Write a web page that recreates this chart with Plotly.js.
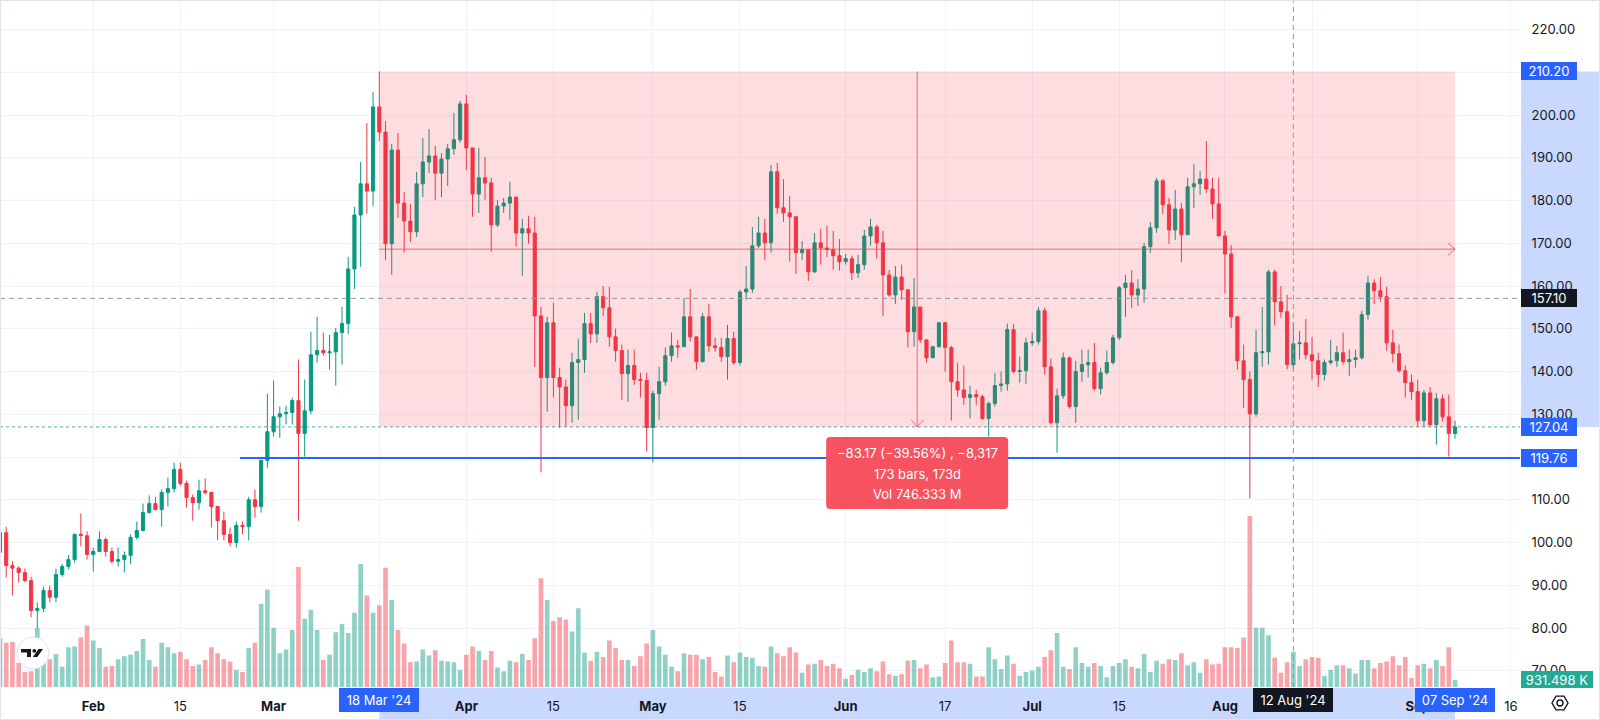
<!DOCTYPE html>
<html>
<head>
<meta charset="utf-8">
<script src="https://cdn.plot.ly/plotly-3.0.1.min.js"></script>
<style>
html,body{margin:0;padding:0;background:#fff;}
#chart{width:1600px;height:720px;}
</style>
</head>
<body>
<div id="chart"></div>
<script>
// ---------------- DATA ----------------
const firstDate = '2024-01-17';

const openP = [
 97.7,102.3,94.6,94.0,93.0,91.1,84.1,84.6,88.8,87.2,92.5,94.4,96.0,101.9,101.6,
 97.2,97.9,100.7,97.9,95.6,96.0,97.0,101.2,102.8,107.0,109.1,107.7,111.7,112.6,117.1,113.8,110.5,109.3,112.1,111.7,108.4,105.1,101.9,100.0,104.0,103.7,110.0,108.4,119.2,
 125.9,129.4,130.1,130.4,133.2,125.5,130.8,143.9,144.9,144.4,144.6,149.1,151.2,164.0,176.6,183.9,182.2,201.9,196.0,169.9,191.8,179.4,175.2,172.7,183.9,189.0,190.4,186.4,189.7,192.1,194.2,
 202.6,192.3,181.5,185.3,184.1,174.3,178.7,179.4,180.8,172.4,173.4,172.4,153.0,138.6,151.4,138.6,136.4,132.0,142.1,142.8,151.2,148.8,157.5,154.9,148.1,144.9,139.5,141.4,138.1,137.9,
 126.9,134.8,137.6,143.7,146.0,145.8,152.8,148.1,142.3,152.8,146.0,145.6,143.5,147.7,142.1,158.6,159.3,169.4,172.4,170.1,186.7,178.3,177.1,176.2,167.8,168.5,163.3,170.1,168.9,168.5,167.1,
 165.7,166.4,163.1,165.0,171.7,173.8,170.1,162.6,157.9,162.1,159.1,149.3,155.1,147.4,143.2,145.8,151.4,145.6,137.6,135.7,133.9,134.6,134.1,129.0,132.5,136.7,137.1,149.8,140.0,140.2,
 146.7,147.0,154.2,141.1,128.0,134.3,143.2,131.8,140.0,141.6,142.1,136.0,139.7,142.1,147.9,159.6,160.7,157.9,159.3,169.2,173.6,184.6,179.0,173.1,178.0,172.0,183.2,183.9,185.0,182.7,179.2,
 171.7,167.5,152.8,142.5,138.1,130.1,144.4,144.6,163.3,156.3,154.0,141.6,146.5,146.7,143.9,142.5,139.3,142.1,142.5,144.4,142.3,142.8,143.2,153.3,160.7,158.9,157.5,146.7,144.2,140.2,137.4,
 135.3,128.5,135.0,127.6,133.6,129.4,125.5
];
const highP = [
 104.0,103.7,95.6,94.4,93.9,92.0,86.0,89.7,89.9,93.9,95.0,97.0,102.1,106.8,102.6,
 98.8,102.6,101.2,98.8,98.8,97.9,101.9,104.9,109.1,111.0,110.7,112.4,115.2,118.7,118.7,114.5,111.2,114.7,115.0,111.9,108.6,107.2,103.5,104.9,104.9,110.7,112.4,119.4,134.8,
 137.9,131.8,132.0,133.9,142.8,138.1,149.3,152.8,149.1,148.6,150.2,155.1,166.8,178.5,189.0,198.1,205.4,210.2,198.6,193.2,195.8,182.0,179.2,186.7,194.6,196.7,192.8,191.1,193.2,200.5,203.3,
 204.7,192.3,192.3,190.2,185.3,180.1,180.6,184.4,180.8,175.7,176.4,176.2,155.1,152.8,156.1,140.9,138.1,144.4,147.7,153.7,153.7,158.6,160.0,159.8,150.0,146.3,145.1,145.1,139.7,139.7,
 135.5,141.1,145.6,149.1,147.4,157.0,159.3,148.1,153.7,155.8,147.9,147.9,150.9,149.3,159.1,164.7,173.8,176.2,175.7,188.3,188.8,185.0,181.1,176.2,170.5,168.4,172.4,173.4,174.1,172.9,171.0,
 167.5,167.1,167.3,173.1,175.7,174.3,172.9,163.8,164.7,165.0,159.1,161.9,155.1,147.4,146.0,151.6,151.6,146.0,142.1,141.4,136.7,135.7,134.6,133.0,139.7,140.0,151.2,151.1,143.5,147.9,
 149.1,155.1,154.9,143.0,136.0,144.4,143.5,142.5,145.1,145.1,146.7,140.9,144.9,148.6,160.0,162.6,163.7,161.6,170.1,175.0,185.3,185.0,180.6,182.5,179.4,185.3,188.5,186.9,193.9,185.3,185.3,
 172.9,169.6,153.0,146.3,140.0,149.8,155.1,163.8,163.8,160.0,157.9,151.4,149.5,152.3,148.1,144.4,142.8,147.4,146.0,149.1,145.1,145.1,154.2,162.4,161.6,162.1,159.8,149.8,146.3,141.4,139.3,
 138.1,135.7,136.4,135.0,134.6,134.6,128.5
];
const lowP = [
 96.5,91.8,87.6,90.7,90.7,82.5,80.0,83.7,86.0,86.0,92.0,93.7,95.3,99.1,96.0,
 93.2,97.7,96.7,95.1,94.4,93.0,95.0,100.7,102.6,106.8,107.5,103.7,108.4,111.7,113.3,108.2,105.1,107.7,111.2,103.5,100.5,100.5,99.1,98.8,101.9,100.5,105.8,107.0,117.5,
 124.8,124.5,127.6,127.6,105.1,120.1,130.0,142.1,143.7,140.4,136.7,141.6,148.8,159.3,164.5,176.9,178.7,193.9,166.1,162.6,175.9,167.8,170.3,171.5,180.8,186.4,180.1,180.8,183.4,190.7,193.5,
 187.1,176.2,177.1,180.1,168.0,173.8,177.1,175.5,169.2,162.4,169.9,141.1,116.4,130.6,133.9,126.9,127.1,128.0,128.7,139.7,146.7,146.7,153.0,145.8,142.3,133.4,132.9,136.9,133.9,121.3,
 118.7,128.7,136.7,142.3,143.2,145.8,147.0,140.4,142.1,144.6,144.6,142.3,138.1,141.6,141.4,156.8,158.4,168.9,166.1,167.8,176.9,175.0,165.7,162.8,166.1,161.2,163.1,165.0,166.8,163.8,163.6,
 165.0,161.4,161.9,163.8,169.4,166.4,153.0,157.5,155.8,156.8,145.6,145.8,146.7,142.1,143.2,145.6,140.0,128.5,134.1,132.2,129.0,132.2,128.7,124.8,131.8,135.3,135.5,139.5,137.4,137.1,
 146.0,146.3,139.3,127.6,121.0,133.6,131.3,128.0,137.6,138.6,135.5,134.6,139.3,141.6,147.4,152.8,154.9,155.3,156.1,167.7,172.4,176.8,169.9,170.8,165.6,172.0,178.2,181.3,181.8,175.7,171.7,
 158.2,150.2,140.4,131.5,110.3,129.4,141.1,141.6,150.9,152.6,140.5,140.4,142.8,142.8,138.1,136.4,137.9,141.6,141.1,141.6,139.0,140.9,142.8,152.1,155.8,156.3,144.9,142.1,139.7,133.9,133.4,
 127.1,127.1,127.1,122.9,128.3,120.1,124.3
];
const closeP = [
 102.3,94.6,94.0,93.0,91.1,84.1,84.6,88.8,87.2,92.5,94.4,96.0,101.9,101.6,97.2,
 97.9,100.7,97.9,95.6,96.0,97.0,101.2,102.8,107.0,109.1,107.7,111.7,112.6,117.1,113.8,110.5,109.3,112.1,111.7,108.4,105.1,101.9,100.0,104.0,103.7,110.0,108.4,119.2,125.9,
 129.4,130.1,130.4,133.2,125.5,130.8,143.9,144.9,144.4,144.6,149.1,151.2,164.0,176.6,183.9,182.2,201.9,196.0,169.9,191.8,179.4,175.2,172.7,183.9,189.0,190.4,186.4,189.7,192.1,194.2,202.6,
 192.3,181.5,185.3,184.1,174.3,178.7,179.4,180.8,172.4,173.4,172.4,153.0,138.6,151.4,138.6,136.4,132.0,142.1,142.8,151.2,148.8,157.5,154.9,148.1,144.9,139.5,141.4,138.1,137.9,126.9,
 134.8,137.6,143.7,146.0,145.8,152.8,148.1,142.3,152.8,146.0,145.6,143.5,147.7,142.1,158.6,159.3,169.4,172.4,170.1,186.7,178.3,177.1,176.2,167.8,168.5,163.3,170.1,168.9,168.5,167.1,165.7,
 166.4,163.1,165.0,171.7,173.8,170.1,162.6,157.9,162.1,159.1,149.3,155.1,147.4,143.2,145.8,151.4,145.6,137.6,135.7,133.9,134.6,134.1,129.0,132.5,136.7,137.1,149.8,140.0,140.2,146.7,
 147.0,154.2,141.1,128.0,134.3,143.2,131.8,140.0,141.6,142.1,136.0,139.7,142.1,147.9,159.6,160.7,157.9,159.3,169.2,173.6,184.6,179.0,173.1,178.0,172.0,183.2,183.9,185.0,182.7,179.2,171.7,
 167.5,152.8,142.5,138.1,130.1,144.4,144.6,163.3,156.3,154.0,141.6,146.5,146.7,143.9,142.5,139.3,142.1,142.5,144.4,142.3,142.8,143.2,153.3,160.7,158.9,157.5,146.7,144.2,140.2,137.4,135.3,
 128.5,135.0,127.6,133.6,129.4,125.5,127.04
];
// volume in millions
const volumeM = [
 6.5,5.9,6.0,3.2,2.0,2.1,7.9,3.7,3.7,4.4,2.7,5.3,5.4,6.6,8.2,
 6.2,5.2,2.7,2.8,3.7,4.1,4.3,4.8,6.4,3.6,2.7,5.9,5.3,4.5,4.7,3.7,2.8,3.0,3.6,5.3,4.5,3.7,3.4,2.3,2.0,5.2,5.9,11.1,13.0,
 7.9,4.5,5.0,7.6,16.0,9.1,10.3,7.6,3.6,4.3,7.3,8.4,7.2,9.9,16.4,12.2,9.9,10.9,15.9,11.6,7.6,5.8,3.3,3.4,5.0,4.2,4.9,3.5,3.4,3.3,2.3,
 4.3,5.4,4.8,3.6,4.8,2.6,2.1,3.5,3.3,4.4,3.6,6.5,14.5,11.6,8.8,9.3,9.0,7.4,10.5,4.6,3.5,4.7,4.0,6.2,5.2,3.6,3.6,2.8,4.1,5.8,
 7.6,5.4,4.3,2.7,2.1,4.5,4.3,4.3,3.7,4.0,2.0,1.4,4.2,3.3,4.6,4.0,3.9,2.8,2.7,5.4,4.5,4.1,5.3,4.6,1.9,3.0,3.1,3.6,2.8,3.1,2.5,
 1.1,1.6,2.3,2.0,2.5,2.1,3.4,1.7,1.5,1.7,3.5,3.6,2.5,3.0,1.3,1.4,3.2,6.2,3.3,3.3,3.1,1.4,1.4,5.3,3.7,2.4,4.2,3.1,1.5,2.0,
 2.2,2.7,4.0,4.9,7.2,2.7,2.4,5.3,3.2,2.7,3.2,2.8,1.3,2.8,3.2,3.7,2.7,2.5,4.4,2.0,3.5,3.1,3.7,3.6,4.5,2.9,3.3,1.9,3.7,3.0,3.1,
 5.3,5.3,5.2,6.6,22.8,7.9,7.9,6.9,3.9,1.9,3.3,4.7,2.8,3.7,4.0,3.9,1.5,2.3,2.9,2.9,2.5,1.8,3.6,3.6,2.5,3.2,3.4,4.1,2.9,4.0,1.2,
 2.9,3.1,2.5,3.6,2.8,5.3,0.93
];

const xTickDates = ['2024-02-01','2024-02-15','2024-03-01','2024-03-18','2024-04-01','2024-04-15','2024-05-01','2024-05-15','2024-06-01','2024-06-17','2024-07-01','2024-07-15','2024-08-01','2024-08-15','2024-09-01','2024-09-16'];
const xTickLabels = ['<b>Feb</b>','15','<b>Mar</b>','18','<b>Apr</b>','15','<b>May</b>','15','<b>Jun</b>','17','<b>Jul</b>','15','<b>Aug</b>','15','<b>Sep</b>','16'];
const yTickValues = [70,80,90,100,110,120,130,140,150,160,170,180,190,200,210,220];

// drawing tool values
const rangeStartDate = '2024-03-18';
const rangeEndDate = '2024-09-07';
const rangeHigh = 210.20;
const rangeLow = 127.04;
const supportLevel = 119.76;
const supportStartDate = '2024-02-24 14:00';
const crossDate = '2024-08-12';
const crossPrice = 157.10;
const lastPrice = 127.04;
const lastVolumeText = '931.498 K';
const measureLines = ['\u221283.17 (\u221239.56%) , \u22128,317', '173 bars, 173d', 'Vol 746.333 M'];

// ---------------- BUILD ----------------
const N = closeP.length;
[openP, highP, lowP, volumeM].forEach((a, i) => { if (a.length !== N) throw new Error('length mismatch ' + i + ': ' + a.length + ' vs ' + N); });

const dates = [];
const d0 = Date.UTC(2024, 0, 17);
for (let i = 0; i < N; i++) dates.push(new Date(d0 + i * 86400000).toISOString().slice(0, 10));

const W = 1600, H = 720;
const plotRight = 1520, plotBottom = 687;
const xStart = '2024-01-17 00:00', xEnd = '2024-09-17 10:48';
const yMin = 66.2, yMax = 226.9;
const volMax = 91.6;

function ms(s) { const p = s.split(/[- :]/).map(Number); return Date.UTC(p[0], p[1] - 1, p[2], p[3] || 0, p[4] || 0); }
const xs = ms(xStart), xe = ms(xEnd);
function xPx(s) { return (ms(s) - xs) / (xe - xs) * plotRight; }
function yPx(v) { return plotBottom * (1 - (v - yMin) / (yMax - yMin)); }
function PX(p) { return p / W; }
function PY(p) { return 1 - p / H; }
function fmtMs(t) { const d = new Date(t); return d.toISOString().slice(0, 16).replace('T', ' '); }
const midDate = fmtMs((ms(rangeStartDate) + ms(rangeEndDate)) / 2);

const volColors = closeP.map((c, i) => c >= openP[i] ? 'rgba(8,153,129,0.45)' : 'rgba(242,54,69,0.45)');

const traces = [
  { type: 'bar', x: dates, y: volumeM, xaxis: 'x', yaxis: 'y', marker: { color: volColors, line: { width: 0 } }, hoverinfo: 'skip', showlegend: false },
  { type: 'candlestick', x: dates, open: openP, high: highP, low: lowP, close: closeP, xaxis: 'x', yaxis: 'y2',
    increasing: { line: { color: '#089981', width: 1 }, fillcolor: '#089981' },
    decreasing: { line: { color: '#F23645', width: 1 }, fillcolor: '#F23645' },
    whiskerwidth: 0, hoverinfo: 'skip', showlegend: false }
];

function rrect(x0, y0, x1, y1, r) {
  return 'M ' + PX(x0 + r) + ' ' + PY(y0) + ' L ' + PX(x1 - r) + ' ' + PY(y0) +
    ' Q ' + PX(x1) + ' ' + PY(y0) + ' ' + PX(x1) + ' ' + PY(y0 + r) +
    ' L ' + PX(x1) + ' ' + PY(y1 - r) + ' Q ' + PX(x1) + ' ' + PY(y1) + ' ' + PX(x1 - r) + ' ' + PY(y1) +
    ' L ' + PX(x0 + r) + ' ' + PY(y1) + ' Q ' + PX(x0) + ' ' + PY(y1) + ' ' + PX(x0) + ' ' + PY(y1 - r) +
    ' L ' + PX(x0) + ' ' + PY(y0 + r) + ' Q ' + PX(x0) + ' ' + PY(y0) + ' ' + PX(x0 + r) + ' ' + PY(y0) + ' Z';
}
function poly(pts) { return 'M ' + pts.map(p => PX(p[0]) + ' ' + PY(p[1])).join(' L ') + ' Z'; }

const red = '#F23645';
const midPrice = (rangeHigh + rangeLow) / 2;
const tipX = xPx(midDate);
const shapes = [
  // axis highlight bands
  { type: 'rect', xref: 'paper', yref: 'paper', x0: PX(1521), x1: 1, y0: PY(yPx(rangeLow)), y1: PY(yPx(rangeHigh)), fillcolor: 'rgba(41,98,255,0.25)', line: { width: 0 }, layer: 'below' },
  { type: 'rect', xref: 'paper', yref: 'paper', x0: PX(xPx(rangeStartDate)), x1: PX(xPx(rangeEndDate)), y0: 0, y1: PY(plotBottom + 1), fillcolor: 'rgba(41,98,255,0.25)', line: { width: 0 }, layer: 'below' },
  // last price dotted line
  { type: 'line', xref: 'x', yref: 'y2', x0: xStart, x1: xEnd, y0: lastPrice, y1: lastPrice, line: { color: 'rgba(8,153,129,0.75)', width: 1, dash: 'dot' }, layer: 'above' },
  // range box
  { type: 'rect', xref: 'x', yref: 'y2', x0: rangeStartDate, x1: rangeEndDate, y0: rangeLow, y1: rangeHigh, fillcolor: 'rgba(242,54,69,0.17)', line: { width: 0 }, layer: 'above' },
  { type: 'line', xref: 'x', yref: 'y2', x0: rangeStartDate, x1: rangeEndDate, y0: midPrice, y1: midPrice, line: { color: red, width: 1 }, opacity: 0.7, layer: 'above' },
  { type: 'path', xref: 'x', yref: 'y2', xsizemode: 'pixel', ysizemode: 'pixel', xanchor: rangeEndDate, yanchor: midPrice, path: 'M -7 6 L 0 0 L -7 -6', line: { color: red, width: 1 }, opacity: 0.7, layer: 'above' },
  { type: 'line', xref: 'x', yref: 'y2', x0: midDate, x1: midDate, y0: rangeHigh, y1: rangeLow, line: { color: red, width: 1 }, opacity: 0.7, layer: 'above' },
  { type: 'path', xref: 'x', yref: 'y2', xsizemode: 'pixel', ysizemode: 'pixel', xanchor: midDate, yanchor: rangeLow, path: 'M -6 7 L 0 0 L 6 7', line: { color: red, width: 1 }, opacity: 0.7, layer: 'above' },
  // support line
  { type: 'line', xref: 'x', yref: 'y2', x0: supportStartDate, x1: xEnd, y0: supportLevel, y1: supportLevel, line: { color: '#2962FF', width: 2 }, layer: 'above' },
  // crosshair
  { type: 'line', xref: 'x', yref: 'paper', x0: crossDate, x1: crossDate, y0: PY(plotBottom), y1: 1, line: { color: '#9598A1', width: 1, dash: '5px,4px' }, layer: 'above' },
  { type: 'line', xref: 'x', yref: 'y2', x0: xStart, x1: xEnd, y0: crossPrice, y1: crossPrice, line: { color: '#9598A1', width: 1, dash: '5px,4px' }, layer: 'above' },
  // measure label box
  { type: 'path', xref: 'paper', yref: 'paper', path: rrect(tipX - 91, 437, tipX + 91, 509, 4), fillcolor: '#F7525F', line: { width: 0 }, layer: 'above' },
  // TradingView logo
  { type: 'circle', xref: 'paper', yref: 'paper', x0: PX(17), x1: PX(49), y0: PY(669), y1: PY(637), fillcolor: '#FFFFFF', line: { color: '#E0E3EB', width: 1 }, layer: 'above' },
  { type: 'path', xref: 'paper', yref: 'paper', path: poly([[21, 649], [31, 649], [31, 657], [27, 657], [27, 652.5], [21, 652.5]]), fillcolor: '#131722', line: { width: 0 }, layer: 'above' },
  { type: 'circle', xref: 'paper', yref: 'paper', x0: PX(32.4), x1: PX(36.2), y0: PY(652.7), y1: PY(648.9), fillcolor: '#131722', line: { width: 0 }, layer: 'above' },
  { type: 'path', xref: 'paper', yref: 'paper', path: poly([[32.8, 657], [37.3, 657], [43, 649], [38.5, 649]]), fillcolor: '#131722', line: { width: 0 }, layer: 'above' },
  // settings gear
  { type: 'path', xref: 'paper', yref: 'paper', path: poly([[1568, 703], [1564, 696.1], [1556, 696.1], [1552, 703], [1556, 709.9], [1564, 709.9]]), line: { color: '#131722', width: 1.4 }, layer: 'above' },
  { type: 'circle', xref: 'paper', yref: 'paper', x0: PX(1557), x1: PX(1563), y0: PY(706), y1: PY(700), line: { color: '#131722', width: 1.4 }, layer: 'above' },
  // frame
  { type: 'rect', xref: 'paper', yref: 'paper', x0: PX(0.5), x1: PX(1599.5), y0: PY(719.5), y1: PY(0.5), line: { color: '#E0E3EB', width: 1 }, layer: 'above' }
];

const lbl = { family: 'Inter, Roboto, sans-serif', size: 13, color: '#FFFFFF' };
function yLabel(v, text, bg, w) {
  return { xref: 'paper', yref: 'y2', x: PX(1521), y: v, xanchor: 'left', yanchor: 'middle', text: text, showarrow: false,
    bgcolor: bg, borderpad: 2, borderwidth: 0, width: w || 52, height: 14, align: 'center', valign: 'middle', font: lbl };
}
function xLabel(dateStr, text, bg) {
  return { xref: 'x', yref: 'paper', x: dateStr, y: PY(700), xanchor: 'center', yanchor: 'middle', text: text, showarrow: false,
    bgcolor: bg, borderpad: 2, borderwidth: 0, width: 76, height: 20, align: 'center', valign: 'middle', font: lbl };
}
const annotations = [
  yLabel(rangeHigh, rangeHigh.toFixed(2), '#2962FF'),
  yLabel(crossPrice, crossPrice.toFixed(2), '#131722'),
  yLabel(lastPrice, lastPrice.toFixed(2), '#2962FF'),
  yLabel(supportLevel, supportLevel.toFixed(2), '#2962FF'),
  { xref: 'paper', yref: 'paper', x: PX(1521), y: PY(679), xanchor: 'left', yanchor: 'middle', text: lastVolumeText, showarrow: false,
    bgcolor: '#22AB94', borderpad: 2, borderwidth: 0, width: 68, height: 13, align: 'center', valign: 'middle', font: lbl },
  xLabel(rangeStartDate, "18 Mar '24", '#2962FF'),
  xLabel(crossDate, "12 Aug '24", '#131722'),
  xLabel(rangeEndDate, "07 Sep '24", '#2962FF')
];
measureLines.forEach((t, i) => {
  annotations.push({ xref: 'x', yref: 'paper', x: midDate, y: PY(453 + i * 20.7), xanchor: 'center', yanchor: 'middle', text: t, showarrow: false, font: lbl });
});

const layout = {
  width: W, height: H,
  margin: { l: 0, r: 0, t: 0, b: 0, pad: 0 },
  paper_bgcolor: '#FFFFFF', plot_bgcolor: '#FFFFFF',
  font: { family: 'Inter, Roboto, sans-serif', size: 13, color: '#131722' },
  showlegend: false, hovermode: false,
  bargap: 0.25, boxgap: 0.28,
  xaxis: {
    domain: [0, plotRight / W], type: 'date', range: [xStart, xEnd],
    tickmode: 'array', tickvals: xTickDates, ticktext: xTickLabels,
    showgrid: true, gridcolor: '#F0F3FA', gridwidth: 1,
    ticks: 'outside', ticklen: 7, tickcolor: 'rgba(0,0,0,0)',
    showline: false, zeroline: false, rangeslider: { visible: false }, fixedrange: true,
    tickfont: { size: 13, color: '#131722' }, anchor: 'y'
  },
  yaxis: {
    domain: [(H - plotBottom) / H, 1], range: [0, volMax], visible: false, showgrid: false, zeroline: false, fixedrange: true
  },
  yaxis2: {
    overlaying: 'y', side: 'right', anchor: 'x', range: [yMin, yMax],
    tickmode: 'array', tickvals: yTickValues, ticktext: yTickValues.map(v => v.toFixed(2)),
    showgrid: true, gridcolor: '#F0F3FA', gridwidth: 1,
    ticks: 'outside', ticklen: 8, tickcolor: 'rgba(0,0,0,0)',
    showline: false, zeroline: false, fixedrange: true,
    tickfont: { size: 13, color: '#131722' }
  },
  shapes: shapes,
  annotations: annotations
};

Plotly.newPlot('chart', traces, layout, { staticPlot: true, displayModeBar: false });
</script>
</body>
</html>
